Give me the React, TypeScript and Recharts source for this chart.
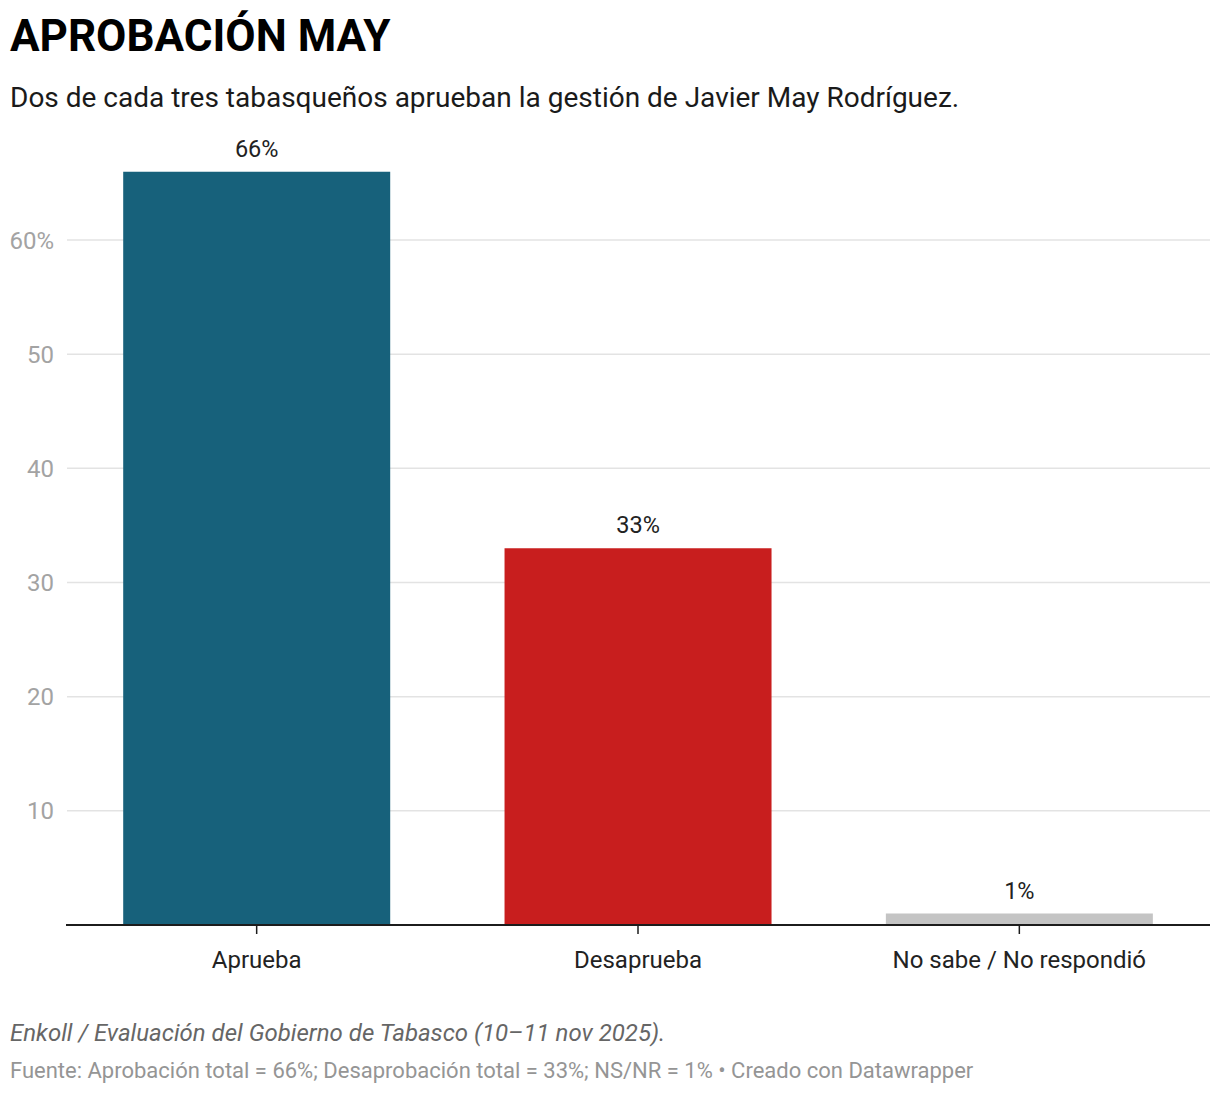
import React from "react";
import { BarChart, Bar, XAxis, YAxis, CartesianGrid, Cell, LabelList } from "recharts";

const categories = ["Aprueba", "Desaprueba", "No sabe / No respondió"];
const shares = [66, 33, 1];
const barColors = ["#17617b", "#c81e1e", "#c4c4c4"];
const yTicks = [10, 20, 30, 40, 50, 60];

const rows = categories.map((name, i) => ({ name, value: shares[i], color: barColors[i] }));

const FONT = "Roboto, 'Noto Sans', sans-serif";
const CHART_TOP = 120;

function YTick(props: any) {
  const { y, payload } = props;
  const label = payload.value === 60 ? "60%" : String(payload.value);
  return (
    <text x={54} y={y + 8.5} textAnchor="end" fontSize={24} fill="#a3a3a3" fontFamily={FONT}>
      {label}
    </text>
  );
}

function XTick(props: any) {
  const { x, payload } = props;
  return (
    <text x={x} y={968 - CHART_TOP} textAnchor="middle" fontSize={24} fill="#222" fontFamily={FONT}>
      {payload.value}
    </text>
  );
}

function ValueLabel(props: any) {
  const { x, y, width, value } = props;
  return (
    <text x={x + width / 2} y={y - 15} textAnchor="middle" fontSize={23.5} fill="#222" fontFamily={FONT}>
      {value}%
    </text>
  );
}

// grid starts a little right of the axis, and only at the tick values
const gridLine = (p: any) => {
  if (Math.abs(p.y1 - p.y) < 1 || Math.abs(p.y1 - (p.y + p.height)) < 1) return <g key={p.key} />;
  return <line key={p.key} x1={67} x2={p.x2} y1={p.y1} y2={p.y2} stroke="#e3e3e3" strokeWidth={1.5} />;
};

export default function App() {
  return (
    <div
      style={{
        position: "absolute",
        left: 0,
        top: 0,
        width: 1220,
        height: 1094,
        background: "#fff",
        fontFamily: FONT,
      }}
    >
      <div
        style={{
          position: "absolute",
          left: 10,
          top: 14,
          fontSize: 44,
          lineHeight: 1,
          fontWeight: 700,
          color: "#000",
          whiteSpace: "nowrap",
        }}
      >
        APROBACIÓN MAY
      </div>
      <div
        style={{
          position: "absolute",
          left: 10,
          top: 83.5,
          fontSize: 28,
          lineHeight: 1,
          color: "#1a1a1a",
          whiteSpace: "nowrap",
        }}
      >
        Dos de cada tres tabasqueños aprueban la gestión de Javier May Rodríguez.
      </div>

      <div style={{ position: "absolute", left: 0, top: CHART_TOP }}>
        <BarChart
          width={1220}
          height={880}
          data={rows}
          margin={{ top: 51.5, right: 10, bottom: 45, left: 0 }}
          barCategoryGap="15%"
        >
          <CartesianGrid vertical={false} horizontal={gridLine} />
          <YAxis
            width={66}
            domain={[0, 66]}
            ticks={yTicks}
            axisLine={false}
            tickLine={false}
            tick={<YTick />}
            allowDataOverflow
          />
          <XAxis
            dataKey="name"
            height={30}
            axisLine={{ stroke: "#1c1c1c", strokeWidth: 2 }}
            tickLine={{ stroke: "#1c1c1c", strokeWidth: 1.5 }}
            tickSize={9}
            tick={<XTick />}
          />
          <Bar dataKey="value" isAnimationActive={false}>
            {rows.map((r) => (
              <Cell key={r.name} fill={r.color} />
            ))}
            <LabelList dataKey="value" content={<ValueLabel />} />
          </Bar>
        </BarChart>
      </div>

      <div
        style={{
          position: "absolute",
          left: 10,
          top: 1021,
          fontSize: 24,
          lineHeight: 1,
          fontStyle: "italic",
          color: "#666",
          whiteSpace: "nowrap",
        }}
      >
        Enkoll / Evaluación del Gobierno de Tabasco (10–11 nov 2025).
      </div>
      <div
        style={{
          position: "absolute",
          left: 10,
          top: 1059.5,
          fontSize: 22,
          lineHeight: 1,
          color: "#959595",
          whiteSpace: "nowrap",
        }}
      >
        Fuente: Aprobación total = 66%; Desaprobación total = 33%; NS/NR = 1% • Creado con Datawrapper
      </div>
    </div>
  );
}
